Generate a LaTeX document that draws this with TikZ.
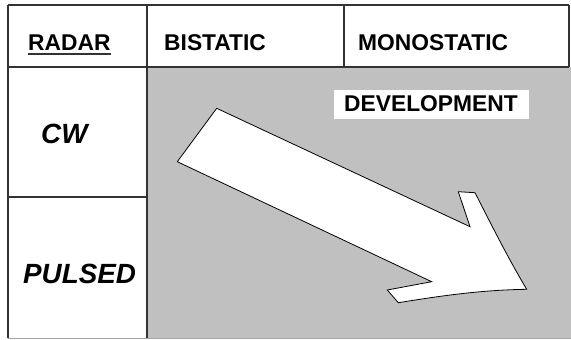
\documentclass[tikz,border=0pt]{standalone}
\usepackage{fontspec}
\setmainfont{Liberation Sans}
\begin{document}
\begin{tikzpicture}[x=1pt,y=-1pt,
  gridline/.style={draw=black!80,line width=1.1pt},
  headtxt/.style={anchor=base west,inner sep=0pt,font=\fontsize{22.8}{26}\selectfont\bfseries},
  rowtxt/.style={anchor=base west,inner sep=0pt,font=\fontsize{27.8}{31}\selectfont\bfseries\itshape},
  devbox/.style={fill=white,inner sep=0pt,minimum width=195pt,minimum height=29pt,font=\fontsize{22.8}{25}\selectfont\bfseries}]
\useasboundingbox (0,0) rectangle (571,340);
\fill[white] (0,0) rectangle (571,340);
% gray development area
\fill[fill={rgb,255:red,192;green,192;blue,192}] (147,67) rectangle (571,338);
\draw[black!35,line width=0.6pt] (8,338) -- (571,338);
% grid
\draw[gridline] (8,5) -- (569,5);
\draw[gridline] (8,5) -- (8,338);
\draw[gridline] (569,5) -- (569,67);
\draw[gridline] (8,67) -- (569,67);
\draw[gridline] (147,5) -- (147,338);
\draw[gridline] (344,5) -- (344,67);
\draw[gridline] (8,197) -- (147,197);
% header texts
\node[headtxt] (radar) at (28,50) {RADAR};
\draw[black!80,line width=1.2pt] (radar.base west) ++(0,4) -- ++(83,0);
\node[headtxt] (bi) at (164,50) {BISTATIC};
\node[headtxt] (mono) at (358,50) {MONOSTATIC};
% row texts
\node[rowtxt] (cw) at (41,143) {CW};
\node[rowtxt] (pulsed) at (23,283) {PULSED};
% development label
\node[devbox] (dev) at (431,104) {DEVELOPMENT};
% arrow
\draw[fill=white,draw=black,line width=0.8pt,line join=miter]
  (216.7,108.3) -- (470,226.7) -- (458.3,191.7) -- (475,192.7)
  .. controls (492,226) and (508,258) .. (526.7,289.3)
  .. controls (480,290) and (440,296) .. (398.3,302.7)
  -- (387.3,290) -- (431.7,281.7) -- (177.3,161.7) -- cycle;
\end{tikzpicture}
\end{document}
